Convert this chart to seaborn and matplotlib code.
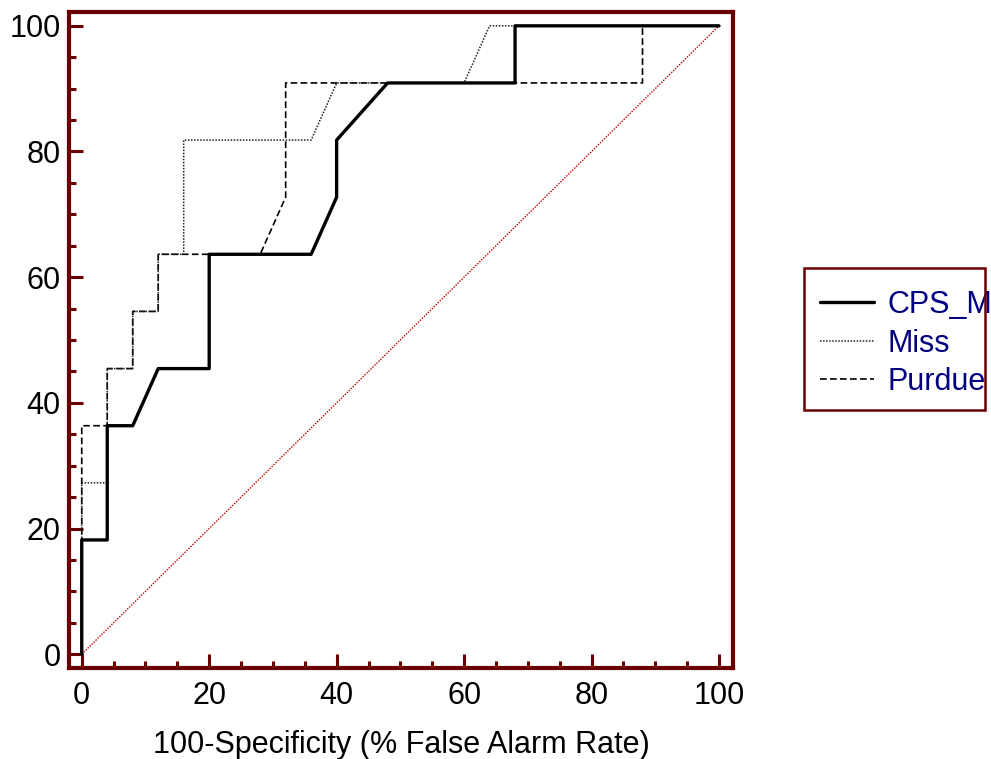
import numpy as np
import pandas as pd
import matplotlib
matplotlib.use("Agg")
import matplotlib.pyplot as plt
from matplotlib.patches import Rectangle
from matplotlib.ticker import MultipleLocator
import seaborn as sns

# ---- data (ROC curves) ----
cps_x = [0, 0, 4, 4, 8, 12, 20, 20, 36, 40, 40, 48, 68, 68, 100]
cps_y = [0, 18.18, 18.18, 36.36, 36.36, 45.45, 45.45, 63.64, 63.64, 72.73, 81.82, 90.91, 90.91, 100, 100]

miss_x = [0, 0, 4, 4, 8, 8, 12, 12, 16, 16, 36, 40, 60, 64, 100]
miss_y = [0, 27.27, 27.27, 45.45, 45.45, 54.55, 54.55, 63.64, 63.64, 81.82, 81.82, 90.91, 90.91, 100, 100]

purdue_x = [0, 0, 4, 4, 8, 8, 12, 12, 28, 32, 32, 88, 88, 100]
purdue_y = [0, 36.36, 36.36, 45.45, 45.45, 54.55, 54.55, 63.64, 63.64, 72.73, 90.91, 90.91, 100, 100]

ref_x = [0, 100]
ref_y = [0, 100]

series_names = ["CPS_M", "Miss", "Purdue"]
x_label = "100-Specificity (% False Alarm Rate)"
x_ticks = [0, 20, 40, 60, 80, 100]
y_ticks = [0, 20, 40, 60, 80, 100]

# ---- style ----
sns.set_theme(style="white")
plt.rcParams["font.family"] = ["Liberation Sans", "DejaVu Sans"]
FS = 22
MAROON = "#6b0000"

fig = plt.figure(figsize=(9.91, 7.59), dpi=100)
ax = fig.add_axes([69 / 991, 1 - 668 / 759, (733 - 69) / 991, (668 - 12) / 759])

sns.lineplot(x=ref_x, y=ref_y, ax=ax, color="#c00000", lw=1.0,
             linestyle=(0, (1, 1)), sort=False, estimator=None)
sns.lineplot(x=purdue_x, y=purdue_y, ax=ax, color="black", lw=1.2,
             linestyle=(0, (4, 2)), sort=False, estimator=None, label=series_names[2])
sns.lineplot(x=miss_x, y=miss_y, ax=ax, color="#222222", lw=1.1,
             linestyle=(0, (1, 1)), sort=False, estimator=None, label=series_names[1])
sns.lineplot(x=cps_x, y=cps_y, ax=ax, color="black", lw=2.4,
             sort=False, estimator=None, label=series_names[0])

ax.set_xlim(-2, 102.2)
ax.set_ylim(-2.2, 102.2)
ax.set_xticks(x_ticks)
ax.set_yticks(y_ticks)
ax.xaxis.set_minor_locator(MultipleLocator(5))
ax.yaxis.set_minor_locator(MultipleLocator(5))
ax.tick_params(which="major", direction="in", length=10, width=2.2, color=MAROON,
               labelsize=FS, labelcolor="black", bottom=True, left=True,
               top=False, right=False, pad=6)
ax.tick_params(axis="x", which="major", pad=9)
ax.tick_params(which="minor", direction="in", length=5, width=2.2, color=MAROON,
               bottom=True, left=True, top=False, right=False)
for s in ax.spines.values():
    s.set_visible(True)
    s.set_color(MAROON)
    s.set_linewidth(3.0)
ax.grid(False)
ax.set_xlabel(x_label, fontsize=FS, color="black", labelpad=14)
ax.set_ylabel("")

# legend
handles, labels = ax.get_legend_handles_labels()
order = [labels.index(n) for n in series_names]
handles = [handles[i] for i in order]
labels = [labels[i] for i in order]
leg = ax.legend(handles, labels, loc="upper left",
                bbox_to_anchor=(820 / 991, 1 - 290 / 759),
                bbox_transform=fig.transFigure, frameon=False,
                fontsize=FS, handlelength=1.76, handletextpad=0.46,
                labelspacing=0.28, borderpad=0, borderaxespad=0)
for t in leg.get_texts():
    t.set_color("#000080")

fig.patches.append(Rectangle((804 / 991, 1 - 410 / 759), (985 - 804) / 991, (410 - 268) / 759,
                             transform=fig.transFigure, fill=False,
                             edgecolor=MAROON, linewidth=1.8, figure=fig))

fig.savefig("out.png", dpi=100, facecolor="white")
